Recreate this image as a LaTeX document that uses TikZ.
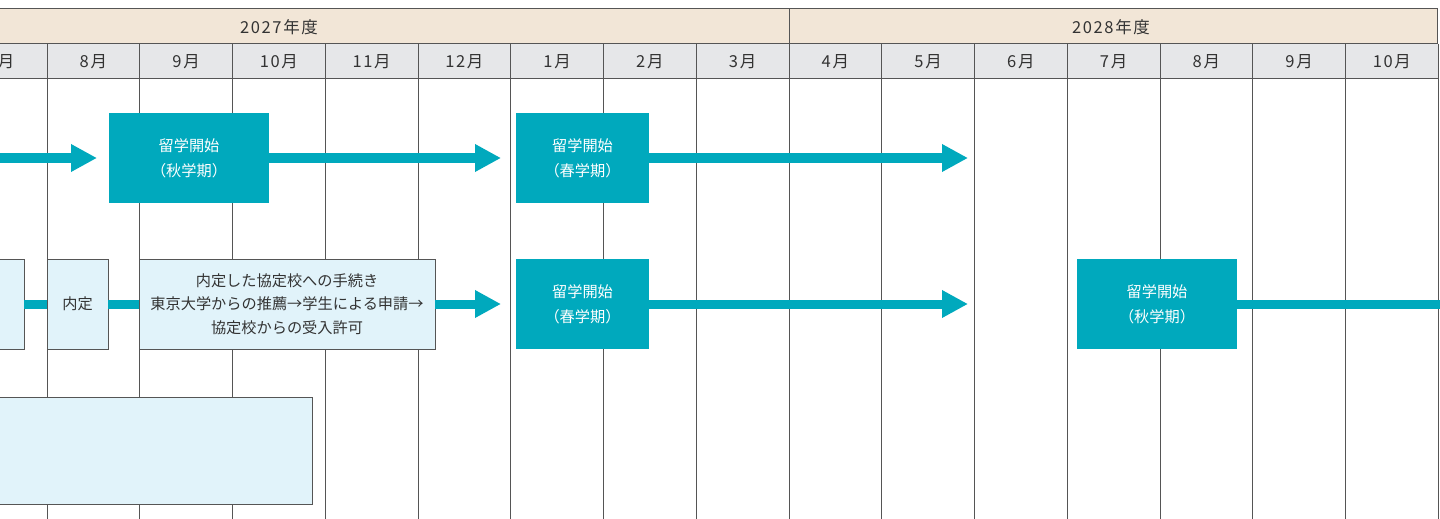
\documentclass[tikz,border=0pt]{standalone}
\usepackage{fontspec}
\setmainfont{Noto Sans CJK JP}
\newfontfamily\hdfont[LetterSpace=10]{Noto Sans CJK JP}
\usetikzlibrary{arrows.meta,positioning}
\definecolor{boxteal}{HTML}{00A9BD}
\definecolor{boxlight}{HTML}{E1F3FA}
\definecolor{yearbg}{HTML}{F2E6D7}
\definecolor{monthbg}{HTML}{E6E7E9}
\definecolor{gridline}{HTML}{555555}

\begin{document}
\begin{tikzpicture}[x=0.5pt,y=-0.5pt,
  grid/.style={draw=gridline,line width=0.5pt},
  hdr/.style={font=\hdfont\fontsize{8.25}{10}\selectfont,text=black!80},
  abroad/.style={fill=boxteal,text=white,anchor=north west,inner sep=0pt,outer sep=0pt,minimum height=45pt,align=center,font=\fontsize{7.6}{12.5}\selectfont},
  proc/.style={fill=boxlight,draw=gridline,line width=0.5pt,text=black!80,anchor=north west,inner sep=0pt,outer sep=0pt,minimum height=45pt,align=center,font=\fontsize{7.6}{11.75}\selectfont},
  flow/.style={draw=boxteal,line width=4.5pt},
  flowto/.style={flow,-{Triangle[length=13pt,width=13pt]}}]
  \clip (0,0) rectangle (1440,519);

  \fill[yearbg] (-10,9) rectangle (1437.5,44);
  \fill[monthbg] (-10,44) rectangle (1437.5,79);
  \draw[grid] (-10,9) -- (1437.5,9) (-10,44) -- (1437.5,44) (-10,79) -- (1437.5,79)
    (789,9) -- (789,44) (1437.5,9) -- (1437.5,44);
  \foreach \k in {0,...,15}
    \draw[grid] ({47+92.75*\k},44) -- ({47+92.75*\k},530);

  \node[hdr] (y2027) at (279,27) {2027年度};
  \node[hdr] (y2028) at (1111,27) {2028年度};
  \foreach \m [count=\j from 0] in {7,8,9,10,11,12,1,2,3,4,5,6,7,8,9,10}
    \node[hdr] (m\j) at ({0.625+92.75*\j},61.5) {\m 月};

  \node[abroad,minimum width=80pt] (fall1) at (109,113) {留学開始\\（秋学期）};
  \node[abroad,minimum width=66.5pt] (spring1) at (516,113) {留学開始\\（春学期）};

  \node[proc,minimum width=17pt] (prev) at (-10,259) {};
  \node[proc,minimum width=30.5pt] (naitei) at (47,259) {内定};
  \node[proc,minimum width=148pt] (tetsuzuki) at (139,259) {内定した協定校への手続き\\東京大学からの推薦→学生による申請→\\協定校からの受入許可};
  \node[abroad,minimum width=66.5pt] (spring2) at (516,259) {留学開始\\（春学期）};
  \node[abroad,minimum width=80pt] (fall2) at (1077,259) {留学開始\\（秋学期）};

  \node[proc,minimum width=161pt,minimum height=53.5pt] (lower) at (-10,397) {};

  \coordinate (in1) at (-10,158);
  \coordinate (to1) at (97,158);
  \coordinate (to2) at (501,158);
  \coordinate (to3) at (968,158);
  \coordinate (to4) at (501,304);
  \coordinate (to5) at (968,304);
  \coordinate (out1) at (1450,304);

  \draw[flowto] (in1) -- (to1);
  \draw[flowto] (fall1) -- (to2);
  \draw[flowto] (spring1) -- (to3);
  \draw[flow] (prev) -- (naitei);
  \draw[flow] (naitei) -- (tetsuzuki);
  \draw[flowto] (tetsuzuki) -- (to4);
  \draw[flowto] (spring2) -- (to5);
  \draw[flow] (fall2) -- (out1);
\end{tikzpicture}
\end{document}
